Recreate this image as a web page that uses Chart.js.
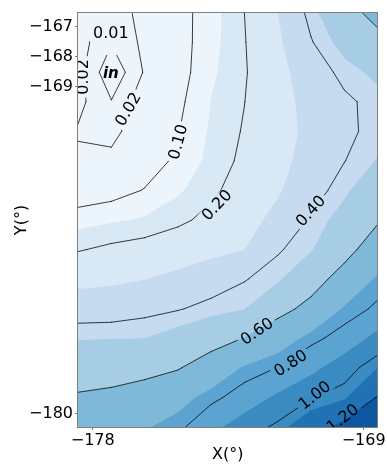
<!DOCTYPE html>
<html><head><meta charset="utf-8">
<script src="https://cdn.jsdelivr.net/npm/chart.js@4/dist/chart.umd.min.js"></script>
<style>html,body{margin:0;padding:0;background:#fff}#wrap{width:387px;height:464px}</style>
</head><body><div id="wrap"><canvas id="c" width="387" height="464"></canvas></div>
<script>
// ---- data ----
const xGrid = [-178.49, -177.38, -176.28, -175.17, -174.07, -172.96, -171.85, -170.75, -169.64, -168.54];
const yGrid = [-166.53, -167.52, -168.52, -169.51, -170.51, -171.50, -172.49, -173.49, -174.48, -175.47, -176.47, -177.46, -178.45, -179.45, -180.44];
const zRow0  = [0.030, 0.015, 0.023, 0.0775, 0.128, 0.200, 0.300, 0.424, 0.539, 0.650];
const zRow1  = [0.025, 0.0107, 0.0225, 0.076, 0.131, 0.196, 0.284, 0.394, 0.480, 0.550];
const zRow2  = [0.024, 0.002, 0.021, 0.075, 0.140, 0.193, 0.271, 0.353, 0.423, 0.470];
const zRow3  = [0.023, 0.0105, 0.0266, 0.086, 0.151, 0.199, 0.267, 0.329, 0.385, 0.424];
const zRow4  = [0.019, 0.016, 0.029, 0.097, 0.157, 0.206, 0.265, 0.322, 0.385, 0.420];
const zRow5  = [0.022, 0.0235, 0.066, 0.113, 0.164, 0.216, 0.274, 0.334, 0.398, 0.455];
const zRow6  = [0.060, 0.075, 0.103, 0.142, 0.185, 0.236, 0.290, 0.364, 0.435, 0.524];
const zRow7  = [0.130, 0.143, 0.157, 0.185, 0.221, 0.267, 0.327, 0.411, 0.485, 0.585];
const zRow8  = [0.195, 0.215, 0.229, 0.250, 0.273, 0.299, 0.391, 0.444, 0.550, 0.682];
const zRow9  = [0.271, 0.282, 0.298, 0.324, 0.360, 0.395, 0.438, 0.537, 0.660, 0.763];
const zRow10 = [0.357, 0.360, 0.378, 0.395, 0.422, 0.448, 0.553, 0.643, 0.760, 0.815];
const zRow11 = [0.445, 0.448, 0.450, 0.485, 0.535, 0.605, 0.697, 0.777, 0.835, 0.933];
const zRow12 = [0.530, 0.540, 0.562, 0.590, 0.679, 0.760, 0.802, 0.870, 0.960, 1.050];
const zRow13 = [0.615, 0.631, 0.657, 0.720, 0.778, 0.841, 0.919, 0.994, 1.036, 1.210];
const zRow14 = [0.700, 0.720, 0.743, 0.779, 0.871, 0.953, 1.019, 1.124, 1.250, 1.320];
const zGrid = [zRow0, zRow1, zRow2, zRow3, zRow4, zRow5, zRow6, zRow7, zRow8, zRow9, zRow10, zRow11, zRow12, zRow13, zRow14];

const fillLevels = [0, 0.15, 0.30, 0.45, 0.60, 0.75, 0.90, 1.05, 1.20];
const lineLevels = [0.01, 0.02, 0.10, 0.20, 0.40, 0.60, 0.80, 1.00, 1.20];
const xTicks = [-178, -169];
const yTicks = [-167, -168, -169, -180];

const labelText = ['0.01', '0.02', '0.02', '0.10', '0.20', '0.40', '0.60', '0.80', '1.00', '1.20'];
const labelX    = [-177.40, -178.32, -176.83, -175.17, -173.88, -170.76, -172.55, -171.43, -170.63, -169.70];
const labelY    = [-167.20, -168.68, -169.76, -170.86, -172.98, -173.18, -177.22, -178.29, -179.37, -180.14];
const noteText = 'in';
const noteX = -177.40, noteY = -168.58;

// ---- style ----
const bandColors = ['rgb(237,245,252)', 'rgb(217,232,245)', 'rgb(198,219,239)', 'rgb(166,205,228)',
  'rgb(127,185,218)', 'rgb(91,163,208)', 'rgb(59,139,195)', 'rgb(33,113,181)', 'rgb(13,87,161)'];
const labelRot  = [0, -90, -60, -75, -47, -48, -34, -33, -38, -38];
const labelGapH = [44, 14, 14, 14, 14, 14, 14, 14, 14, 14];
const FONT = "'DejaVu Sans', sans-serif";
const SPINE = '#7f7f7f';

function clipPoly(pts, lev) {
  const out = [];
  for (let k = 0; k < pts.length; k++) {
    const a = pts[k], b = pts[(k + 1) % pts.length];
    const ina = a.z >= lev, inb = b.z >= lev;
    if (ina) out.push(a);
    if (ina !== inb) {
      const t = (lev - a.z) / (b.z - a.z);
      out.push({x: a.x + t * (b.x - a.x), y: a.y + t * (b.y - a.y), z: lev});
    }
  }
  return out;
}
function cellQuad(i, j) {
  return [
    {x: xGrid[i], y: yGrid[j], z: zGrid[j][i]},
    {x: xGrid[i + 1], y: yGrid[j], z: zGrid[j][i + 1]},
    {x: xGrid[i + 1], y: yGrid[j + 1], z: zGrid[j + 1][i + 1]},
    {x: xGrid[i], y: yGrid[j + 1], z: zGrid[j + 1][i]}
  ];
}
function cellSegments(q, lev) {
  const pts = [];
  for (let e = 0; e < 4; e++) {
    const a = q[e], b = q[(e + 1) % 4];
    if ((a.z < lev) !== (b.z < lev)) {
      const t = (lev - a.z) / (b.z - a.z);
      pts.push({x: a.x + t * (b.x - a.x), y: a.y + t * (b.y - a.y)});
    } else pts.push(null);
  }
  const got = pts.filter(p => p);
  if (got.length === 2) return [[got[0], got[1]]];
  if (got.length === 4) {
    const c = (q[0].z + q[1].z + q[2].z + q[3].z) / 4;
    if ((q[0].z >= lev) === (c >= lev)) return [[pts[0], pts[1]], [pts[2], pts[3]]];
    return [[pts[3], pts[0]], [pts[1], pts[2]]];
  }
  return [];
}

const contourPlugin = {
  id: 'contour',
  beforeDatasetsDraw(chart) {
    const {ctx, chartArea: ca} = chart;
    const xs = chart.scales.x, ys = chart.scales.y;
    const px = v => xs.getPixelForValue(v), py = v => ys.getPixelForValue(v);
    const W = ca.right - ca.left, H = ca.bottom - ca.top;
    ctx.save();
    ctx.beginPath(); ctx.rect(ca.left, ca.top, W, H); ctx.clip();
    // filled bands (painter order)
    for (let k = 0; k < bandColors.length; k++) {
      const lev = fillLevels[k];
      ctx.beginPath();
      for (let j = 0; j < yGrid.length - 1; j++) for (let i = 0; i < xGrid.length - 1; i++) {
        const poly = clipPoly(cellQuad(i, j), lev);
        if (poly.length < 3) continue;
        ctx.moveTo(px(poly[0].x), py(poly[0].y));
        for (let m = 1; m < poly.length; m++) ctx.lineTo(px(poly[m].x), py(poly[m].y));
        ctx.closePath();
      }
      ctx.fillStyle = bandColors[k];
      ctx.fill();
    }
    ctx.restore();

    // label geometry
    ctx.save();
    ctx.font = '16px ' + FONT;
    const labs = labelText.map((t, n) => ({
      t, cx: px(labelX[n]), cy: py(labelY[n]), a: labelRot[n] * Math.PI / 180,
      w: ctx.measureText(t).width + 6, h: labelGapH[n]
    }));
    ctx.restore();

    // contour lines with gaps
    ctx.save();
    ctx.beginPath();
    ctx.rect(ca.left, ca.top, W, H);
    labs.forEach(L => {
      const c = Math.cos(L.a), s = Math.sin(L.a);
      const hw = L.w / 2, hh = L.h / 2;
      const corners = [[-hw, -hh], [hw, -hh], [hw, hh], [-hw, hh]].map(([u, v]) => [L.cx + u * c - v * s, L.cy + u * s + v * c]);
      ctx.moveTo(corners[0][0], corners[0][1]);
      for (let m = 1; m < 4; m++) ctx.lineTo(corners[m][0], corners[m][1]);
      ctx.closePath();
    });
    ctx.clip('evenodd');
    ctx.strokeStyle = 'rgba(0,0,0,0.85)';
    ctx.lineWidth = 0.9;
    ctx.lineCap = 'round';
    ctx.lineJoin = 'round';
    lineLevels.forEach(lev => {
      ctx.beginPath();
      for (let j = 0; j < yGrid.length - 1; j++) for (let i = 0; i < xGrid.length - 1; i++) {
        cellSegments(cellQuad(i, j), lev).forEach(([a, b]) => {
          ctx.moveTo(px(a.x), py(a.y));
          ctx.lineTo(px(b.x), py(b.y));
        });
      }
      ctx.stroke();
    });
    ctx.restore();

    // labels
    ctx.save();
    ctx.beginPath(); ctx.rect(ca.left, ca.top, W, H); ctx.clip();
    ctx.fillStyle = '#000';
    ctx.textAlign = 'center';
    ctx.textBaseline = 'middle';
    ctx.font = '16px ' + FONT;
    labs.forEach(L => {
      ctx.save();
      ctx.translate(L.cx, L.cy);
      ctx.rotate(L.a);
      ctx.fillText(L.t, 0, 1);
      ctx.restore();
    });
    ctx.font = 'italic bold 15px ' + FONT;
    ctx.fillText(noteText, px(noteX), py(noteY));
    ctx.restore();
  },
  afterDraw(chart) {
    const {ctx, chartArea: ca} = chart;
    ctx.save();
    ctx.strokeStyle = SPINE;
    ctx.lineWidth = 1;
    ctx.strokeRect(Math.round(ca.left) - 0.5, Math.round(ca.top) - 0.5, Math.round(ca.right - ca.left) + 1, Math.round(ca.bottom - ca.top) + 1);
    ctx.restore();
  }
};

const fmt = v => (v < 0 ? '\u2212' : '') + Math.abs(v);

new Chart(document.getElementById('c'), {
  type: 'scatter',
  data: {datasets: []},
  options: {
    responsive: false,
    animation: false,
    events: [],
    layout: {padding: {left: 0, right: 9, top: 13, bottom: 0}},
    plugins: {legend: {display: false}, tooltip: {enabled: false}},
    scales: {
      x: {
        type: 'linear', min: xGrid[0], max: xGrid[xGrid.length - 1],
        afterBuildTicks: s => { s.ticks = xTicks.map(v => ({value: v})); },
        afterFit: s => { s.height = 37; },
        ticks: {callback: fmt, autoSkip: false, maxRotation: 0, padding: 1, color: '#000', font: {family: FONT, size: 16}},
        grid: {drawOnChartArea: false, drawTicks: true, tickLength: 3, tickColor: SPINE},
        border: {display: true, color: SPINE},
        title: {display: true, text: 'X(°)', color: '#000', font: {family: FONT, size: 16}, padding: {top: 0, bottom: 0}}
      },
      y: {
        type: 'linear', min: yGrid[yGrid.length - 1], max: yGrid[0],
        afterBuildTicks: s => { s.ticks = yTicks.map(v => ({value: v})); },
        afterFit: s => { s.width = 78; },
        ticks: {callback: fmt, autoSkip: false, padding: 2, color: '#000', font: {family: FONT, size: 16}},
        grid: {drawOnChartArea: false, drawTicks: true, tickLength: 3, tickColor: SPINE},
        border: {display: true, color: SPINE},
        title: {display: true, text: 'Y(°)', color: '#000', font: {family: FONT, size: 16}, padding: {top: 12, bottom: 0}}
      }
    }
  },
  plugins: [contourPlugin]
});
</script>
</body></html>
